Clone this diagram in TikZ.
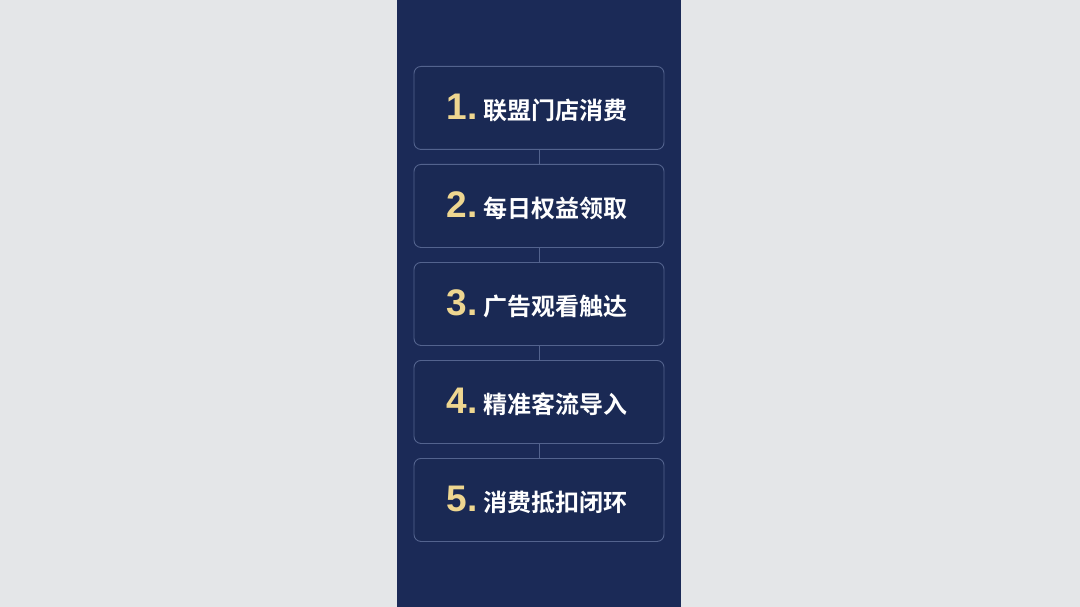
\documentclass[tikz,border=0pt]{standalone}
\usepackage{fontspec}
\newfontfamily\cjk{Noto Sans CJK SC}[BoldFont={* Bold}]
\newfontfamily\numfont{Liberation Sans}
\definecolor{bgc}{HTML}{E4E6E8}
\definecolor{panel}{HTML}{1B2A57}
\definecolor{boxfill}{HTML}{1A2954}
\definecolor{boxline}{HTML}{53638E}
\definecolor{gold}{HTML}{EED690}
\tikzset{
  stepbox/.style={draw=boxline, line width=0.9pt, fill=boxfill, rounded corners=7pt,
    minimum width=250pt, minimum height=83pt, inner sep=0pt, anchor=north},
  linkline/.style={draw=boxline, line width=1pt},
}
\newcommand{\stepnum}[1]{{\numfont\bfseries\fontsize{37}{37}\selectfont\color{gold}#1}}
\newcommand{\steptxt}[1]{{\cjk\bfseries\fontsize{24}{24}\selectfont\color{white}#1}}
\begin{document}
\begin{tikzpicture}[x=1pt,y=-1pt]
\fill[bgc] (0,0) rectangle (1080,607);
\useasboundingbox (0,0) rectangle (1080,607);
\fill[panel] (397,0) rectangle (681,607);
\node[stepbox] (s1) at (539,66) {};
\node[stepbox] (s2) at (539,164) {};
\node[stepbox] (s3) at (539,262) {};
\node[stepbox] (s4) at (539,360) {};
\node[stepbox] (s5) at (539,458) {};
\foreach \a/\b in {s1/s2,s2/s3,s3/s4,s4/s5}{
  \draw[linkline] (\a.south) -- (\b.north);
}
\node[anchor=center] (t1) at ([xshift=-2pt]s1.center) {\stepnum{1.}\hspace{6pt}\steptxt{联盟门店消费}};
\node[anchor=center] (t2) at ([xshift=-2pt]s2.center) {\stepnum{2.}\hspace{6pt}\steptxt{每日权益领取}};
\node[anchor=center] (t3) at ([xshift=-2pt]s3.center) {\stepnum{3.}\hspace{6pt}\steptxt{广告观看触达}};
\node[anchor=center] (t4) at ([xshift=-2pt]s4.center) {\stepnum{4.}\hspace{6pt}\steptxt{精准客流导入}};
\node[anchor=center] (t5) at ([xshift=-2pt]s5.center) {\stepnum{5.}\hspace{6pt}\steptxt{消费抵扣闭环}};
\end{tikzpicture}
\end{document}
